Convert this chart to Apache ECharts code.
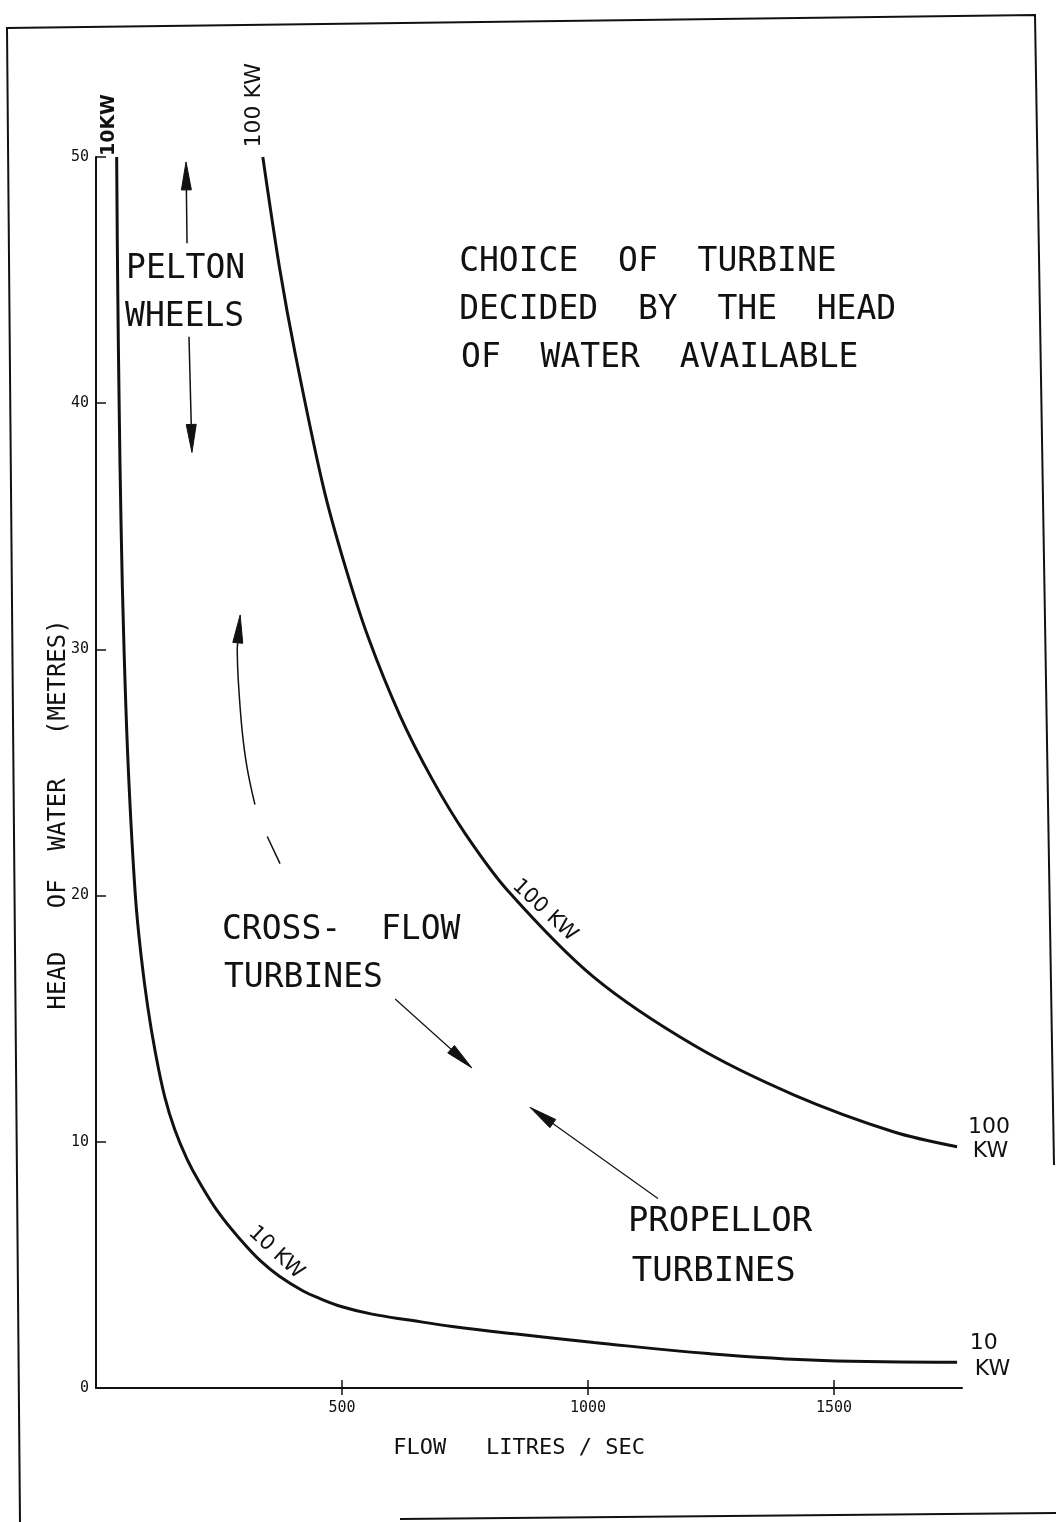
<!DOCTYPE html>
<html>
<head>
<meta charset="utf-8">
<script src="https://cdn.jsdelivr.net/npm/echarts@6/dist/echarts.min.js"></script>
<style>
  html, body { margin: 0; padding: 0; background: #fff; }
  #chart { width: 1056px; height: 1522px; }
</style>
</head>
<body>
<div id="chart"></div>
<script>
// flow (litres/sec) and head (metres)
var flow10  = [42, 44, 47, 51, 57, 66, 80, 92, 105, 120, 140, 160, 185, 209, 250, 297, 335, 372, 420, 453, 500, 561, 640, 724, 850, 1012, 1244, 1477, 1750];
var head10  = [50, 45, 40, 35, 30, 25, 20, 17.5, 15.5, 13.7, 11.8, 10.5, 9.3, 8.4, 7.1, 5.95, 5.15, 4.55, 3.95, 3.65, 3.3, 3.0, 2.75, 2.5, 2.2, 1.85, 1.4, 1.12, 1.05];
var flow100 = [339, 373, 405, 462, 506, 553, 618, 684, 751, 837, 1011, 1217, 1419, 1622, 1750];
var head100 = [50, 45.5, 42, 36.6, 33.4, 30.5, 27.3, 24.7, 22.5, 20.2, 16.7, 13.9, 11.9, 10.4, 9.8];

var flowMax = 1760;
var flowTicks = [500, 1000, 1500];
var headMax = 50, headStep = 10;

var FONT = '"DejaVu Sans Mono", monospace';
var INK = '#111';

function zip(a, b) {
  var out = [];
  for (var i = 0; i < a.length; i++) out.push([a[i], b[i]]);
  return out;
}

var chart = echarts.init(document.getElementById('chart'));

var option = {
  backgroundColor: '#fff',
  animation: false,
  grid: { left: 96, top: 157, width: 866, height: 1231 },
  xAxis: [
    {
      type: 'value', min: 0, max: flowMax,
      axisLine: { lineStyle: { color: INK, width: 2 } },
      axisTick: { inside: true, length: 8, customValues: flowTicks, lineStyle: { color: INK, width: 1.5 } },
      axisLabel: {
        margin: 13, color: INK, fontFamily: FONT, fontSize: 15, customValues: flowTicks,
        formatter: function (v) { return String(v); }
      },
      splitLine: { show: false }
    },
    {
      type: 'value', min: 0, max: flowMax, position: 'bottom',
      axisLine: { show: false },
      axisTick: { inside: false, length: 7, customValues: flowTicks, lineStyle: { color: INK, width: 1.5 } },
      axisLabel: { show: false },
      splitLine: { show: false }
    }
  ],
  yAxis: {
    type: 'value', min: 0, max: headMax, interval: headStep,
    axisLine: { show: true, lineStyle: { color: INK, width: 2 } },
    axisTick: { show: true, inside: true, length: 10, lineStyle: { color: INK, width: 1.5 } },
    axisLabel: { margin: 7, color: INK, fontFamily: FONT, fontSize: 15 },
    splitLine: { show: false }
  },
  series: [
    {
      name: '10 KW', type: 'line', xAxisIndex: 0, data: zip(flow10, head10),
      smooth: 0.4, symbol: 'none', lineStyle: { color: INK, width: 3 }
    },
    {
      name: '100 KW', type: 'line', xAxisIndex: 0, data: zip(flow100, head100),
      smooth: 0.3, symbol: 'none', lineStyle: { color: INK, width: 3 }
    }
  ]
};
chart.setOption(option);

// annotations, given in data units (flow, head) and placed through the grid
function px(q, h) { return chart.convertToPixel({ gridIndex: 0 }, [q, h]); }

function txt(q, h, s, size, opts) {
  opts = opts || {};
  var p = px(q, h);
  return {
    type: 'text', x: p[0], y: p[1], rotation: opts.rot || 0,
    style: {
      text: s, fill: INK,
      font: (opts.weight || 'normal') + ' ' + size + 'px ' + (opts.family || FONT),
      textAlign: opts.align || 'left', textVerticalAlign: 'middle'
    }
  };
}

function arrow(points, opts) {
  opts = opts || {};
  var pts = points.map(function (d) { return px(d[0], d[1]); });
  var tip = pts[pts.length - 1];
  var prev = pts[pts.length - 2];
  var dx = tip[0] - prev[0], dy = tip[1] - prev[1];
  var len = Math.sqrt(dx * dx + dy * dy);
  dx /= len; dy /= len;
  var hl = opts.headLen || 28, hw = opts.headWidth || 5;
  var bx = tip[0] - dx * hl, by = tip[1] - dy * hl;
  var line = pts.slice(0, pts.length - 1).concat([[bx, by]]);
  return [
    { type: 'polyline', shape: { points: line, smooth: opts.smooth || 0 },
      style: { stroke: INK, lineWidth: opts.width || 1.5, fill: null } },
    { type: 'polygon', shape: { points: [tip, [bx - dy * hw, by + dx * hw], [bx + dy * hw, by - dx * hw]] },
      style: { fill: INK, stroke: INK, lineWidth: 1 } }
  ];
}

var rot43 = -43 * Math.PI / 180;
var g = [];

// page frame
g.push({ type: 'polyline', shape: { points: [[20, 1522], [7, 28], [1035, 15], [1054, 1165]] },
  style: { stroke: INK, lineWidth: 2, fill: null } });
g.push({ type: 'line', shape: { x1: 400, y1: 1519, x2: 1056, y2: 1513 },
  style: { stroke: INK, lineWidth: 2 } });

// axis titles
g.push(txt(-75, 23.3, 'HEAD   OF  WATER   (METRES)', 24, { rot: Math.PI / 2, align: 'center' }));
g.push(txt(860, -2.45, 'FLOW   LITRES / SEC', 22, { align: 'center' }));

// curve names
g.push(txt(26, 51.3, '10KW', 19, { rot: Math.PI / 2, align: 'center', weight: 'bold', family: '"DejaVu Sans"' }));
g.push(txt(321, 52.1, '100 KW', 22, { rot: Math.PI / 2, align: 'center', family: '"DejaVu Sans"' }));
g.push(txt(912, 19.4, '100 KW', 21, { rot: rot43, align: 'center', family: '"DejaVu Sans"' }));
g.push(txt(366, 5.5, '10 KW', 21, { rot: rot43, align: 'center', family: '"DejaVu Sans"' }));
g.push(txt(1772, 10.6, '100', 22, { family: '"DejaVu Sans"' }));
g.push(txt(1782, 9.6, 'KW', 22, { family: '"DejaVu Sans"' }));
g.push(txt(1776, 1.83, '10', 22, { family: '"DejaVu Sans"' }));
g.push(txt(1786, 0.77, 'KW', 22, { family: '"DejaVu Sans"' }));

// region notes
g.push(txt(61, 45.45, 'PELTON', 33));
g.push(txt(59, 43.5, 'WHEELS', 33));
g.push(txt(738, 45.7, 'CHOICE  OF  TURBINE', 33));
g.push(txt(738, 43.75, 'DECIDED  BY  THE  HEAD', 33));
g.push(txt(742, 41.8, 'OF  WATER  AVAILABLE', 33));
g.push(txt(256, 18.6, 'CROSS-  FLOW', 33));
g.push(txt(260, 16.65, 'TURBINES', 33));
g.push(txt(1081, 6.74, 'PROPELLOR', 34));
g.push(txt(1089, 4.71, 'TURBINES', 34));

// arrows
g = g.concat(arrow([[185, 46.5], [183, 49.8]]));
g = g.concat(arrow([[189, 42.7], [195, 38.0]]));
g.push({ type: 'polyline',
  shape: { points: [[374, 21.3], [348, 22.4]].map(function (d) { return px(d[0], d[1]); }) },
  style: { stroke: INK, lineWidth: 1.5, fill: null } });
g = g.concat(arrow([[323, 23.7], [307, 25.2], [297, 26.7], [289, 28.8], [287, 30.0], [293, 31.4]], { smooth: 0.4 }));
g = g.concat(arrow([[608, 15.8], [764, 13.0]], { width: 1.2 }));
g = g.concat(arrow([[1142, 7.7], [882, 11.4]], { width: 1.2 }));

chart.setOption({ graphic: { elements: g } });
</script>
</body>
</html>
